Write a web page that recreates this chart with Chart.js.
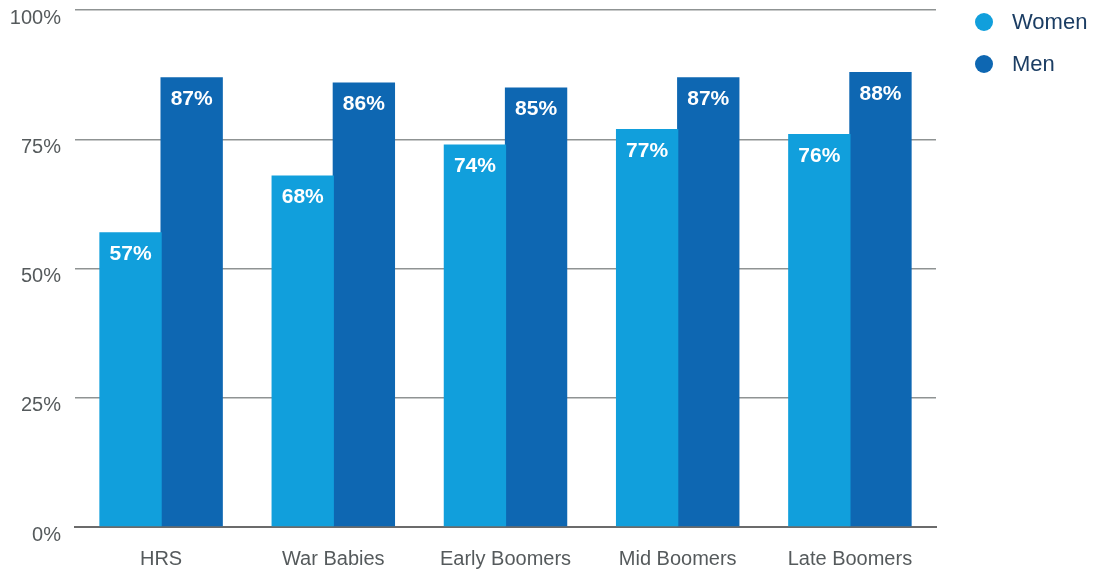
<!DOCTYPE html>
<html>
<head>
<meta charset="utf-8">
<script src="https://cdn.jsdelivr.net/npm/chart.js@4"></script>
<style>
  html, body { margin: 0; padding: 0; background: #fff; }
  #wrap { width: 1093px; height: 572px; }
</style>
</head>
<body>
<div id="wrap"><canvas id="cohortChart"></canvas></div>
<script>
// Cohorts and share of each group (percent)
const cohorts = ['HRS', 'War Babies', 'Early Boomers', 'Mid Boomers', 'Late Boomers'];
const womenValues = [57, 68, 74, 77, 76];
const menValues = [87, 86, 85, 87, 88];
const yTicks = [0, 25, 50, 75, 100];

const FONT = '"Liberation Sans", Arial, sans-serif';
const WOMEN_COLOR = '#119fdc';
const MEN_COLOR = '#0e67b2';

// Writes the value inside the top of each bar
const barValueLabels = {
    id: 'barValueLabels',
    afterDatasetsDraw(chart) {
        const ctx = chart.ctx;
        ctx.save();
        ctx.fillStyle = '#ffffff';
        ctx.font = 'bold 21px ' + FONT;
        ctx.textAlign = 'center';
        ctx.textBaseline = 'middle';
        chart.data.datasets.forEach((ds, i) => {
            chart.getDatasetMeta(i).data.forEach((bar, j) => {
                ctx.fillText(ds.data[j] + '%', bar.x, bar.y + 22);
            });
        });
        ctx.restore();
    }
};

// Legend with round markers in the right margin
const sideLegend = {
    id: 'sideLegend',
    afterDraw(chart) {
        const ctx = chart.ctx;
        const x = chart.chartArea.right + 48;
        ctx.save();
        ctx.font = '22px ' + FONT;
        ctx.textBaseline = 'middle';
        ctx.textAlign = 'left';
        chart.data.datasets.forEach((ds, i) => {
            const y = 22 + i * 42;
            ctx.fillStyle = ds.backgroundColor;
            ctx.beginPath();
            ctx.arc(x, y, 9, 0, Math.PI * 2);
            ctx.fill();
            ctx.fillStyle = '#1b3d63';
            ctx.fillText(ds.label, x + 28, y + 1);
        });
        ctx.restore();
    }
};

const ctx = document.getElementById('cohortChart').getContext('2d');
new Chart(ctx, {
    type: 'bar',
    data: {
        labels: cohorts,
        datasets: [{
            label: 'Women',
            data: womenValues,
            backgroundColor: WOMEN_COLOR,
            categoryPercentage: 0.71,
            barPercentage: 1.02
        }, {
            label: 'Men',
            data: menValues,
            backgroundColor: MEN_COLOR,
            categoryPercentage: 0.71,
            barPercentage: 1.02
        }]
    },
    options: {
        responsive: true,
        maintainAspectRatio: false,
        animation: false,
        layout: {
            padding: { top: 10, bottom: 0, left: 0, right: 157 }
        },
        plugins: {
            tooltip: { enabled: false },
            legend: { display: false }
        },
        scales: {
            x: {
                grid: { display: false, drawTicks: false },
                border: { color: '#6b6b6b', width: 2 },
                ticks: {
                    color: '#555a5c',
                    padding: 20,
                    font: { family: FONT, size: 20 }
                },
                afterFit(scale) {
                    scale.height = 45;
                    scale.paddingLeft = 0;
                    scale.paddingRight = 0;
                }
            },
            y: {
                min: 0,
                max: 100,
                afterBuildTicks(scale) {
                    scale.ticks = yTicks.map(v => ({ value: v }));
                },
                grid: { color: '#8f9393', lineWidth: 1.5, drawTicks: false },
                border: { display: false },
                ticks: {
                    color: '#555a5c',
                    padding: 14,
                    labelOffset: 8,
                    font: { family: FONT, size: 20 },
                    callback: v => v + '%'
                },
                afterFit(scale) {
                    scale.width = 75;
                    scale.paddingTop = 0;
                    scale.paddingBottom = 0;
                }
            }
        }
    },
    plugins: [barValueLabels, sideLegend]
});
</script>
</body>
</html>
